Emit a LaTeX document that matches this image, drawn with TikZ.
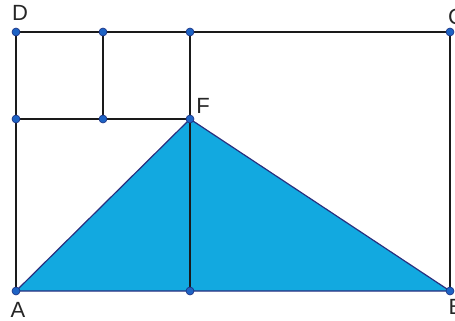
\documentclass[tikz,border=0pt]{standalone}
\usepackage{fontspec}
\setmainfont{Liberation Sans}
\definecolor{trifill}{HTML}{12A9E0}
\definecolor{triedge}{HTML}{2A2F7E}
\definecolor{dotfill}{HTML}{1E63C4}
\definecolor{dotedge}{HTML}{1B2F80}
\definecolor{linecol}{HTML}{1A1A1A}
\begin{document}
\begin{tikzpicture}[x=1pt,y=-1pt,
  seg/.style={draw=linecol,line width=1.2pt},
  pt/.style={circle,fill=dotfill,draw=dotedge,line width=0.6pt,inner sep=0pt,minimum size=8pt},
  lbl/.style={font=\fontsize{22}{22}\selectfont,text=black!85,inner sep=0pt}]
\useasboundingbox (0,0) rectangle (455,321);
\coordinate (A) at (16,291);
\coordinate (B) at (450,291);
\coordinate (C) at (450,32);
\coordinate (D) at (16,32);
\coordinate (F) at (190,119);
\coordinate (G) at (103,32);
\coordinate (H) at (190,32);
\coordinate (I) at (16,119);
\coordinate (J) at (103,119);
\coordinate (K) at (190,291);
% triangle
\fill[trifill] (A) -- (F) -- (B) -- cycle;
% lines
\draw[seg] (D) -- (C) -- (B);
\draw[seg] (D) -- (A);
\draw[seg] (I) -- (F);
\draw[seg] (G) -- (J);
\draw[seg] (H) -- (K);
\draw[draw=triedge,line width=1.2pt,line join=round] (A) -- (F) -- (B) -- cycle;
% points
\foreach \p in {A,B,C,D,F,G,H,I,J,K} \node[pt] (n\p) at (\p) {};
% labels
\node[lbl] (lD) at (20,13) {D};
\node[lbl] (lC) at (456,17) {C};
\node[lbl] (lA) at (18,310) {A};
\node[lbl] (lB) at (456,307) {B};
\node[lbl] (lF) at (203,106) {F};
\end{tikzpicture}
\end{document}
